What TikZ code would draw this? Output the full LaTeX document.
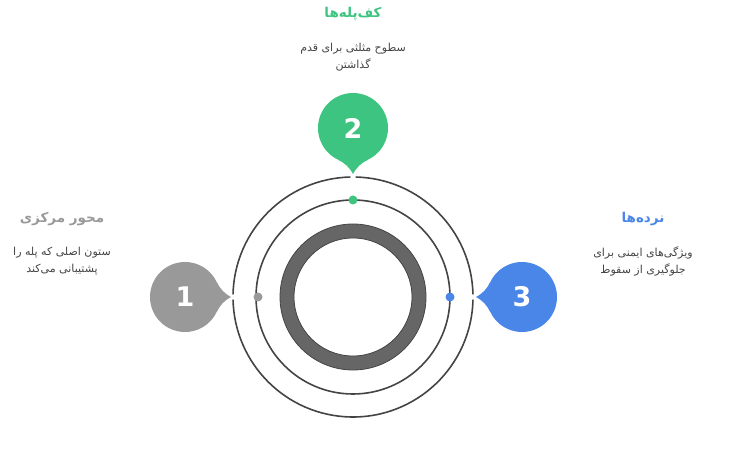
\documentclass[tikz,border=0pt]{standalone}
\usepackage{fontspec}
\newfontfamily\arabicfont[Script=Arabic]{DejaVu Sans}
\newfontfamily\numfont{DejaVu Sans}
\TeXXeTstate=1
\usetikzlibrary{positioning}
\definecolor{mygreen}{RGB}{61,196,128}
\definecolor{mygray}{RGB}{153,153,153}
\definecolor{myblue}{RGB}{74,134,232}
\definecolor{myline}{RGB}{68,68,68}
\definecolor{myring}{RGB}{102,102,102}

\begin{document}
\begin{tikzpicture}[
  x=1pt, y=-1pt,
  badge/.style={
    circle,
    fill=#1,
    minimum size=70pt,
    inner sep=0pt,
    text=white,
    font=\numfont\bfseries\fontsize{27}{27}\selectfont
    },
  dot/.style={
    circle,
    fill=#1,
    minimum size=9pt,
    inner sep=0pt
    },
  title/.style={
    text=#1,
    font=\arabicfont\bfseries\fontsize{13.5}{15}\selectfont
    },
  desc/.style={
    text=myline,
    align=center,
    font=\arabicfont\fontsize{11}{17}\selectfont
    },
  orbit/.style={
    draw=myline,
    line width=1.6pt
    }
]
\useasboundingbox (0,0) rectangle (734,454);

\coordinate (hub) at (353,297);

% orbits
\draw[orbit] (hub) circle (97);
\draw[orbit] ([shift={(1.3:120)}]hub) arc (1.3:178.7:120);
\draw[orbit] ([shift={(181.3:120)}]hub) arc (181.3:268.7:120);
\draw[orbit] ([shift={(271.3:120)}]hub) arc (271.3:358.7:120);

% hub ring
\draw[myring, line width=14pt] (hub) circle (66);
\draw[myline, line width=0.8pt] (hub) circle (73);
\draw[myline, line width=0.8pt] (hub) circle (59);

% badges
\node[badge=mygray] (b1) at (185,297) {1};
\node[badge=mygreen] (b2) at (353,128) {2};
\node[badge=myblue] (b3) at (522,297) {3};

\coordinate (t1) at (231,297);
\coordinate (t2) at (353,174);
\coordinate (t3) at (476,297);

\fill[mygray] (b1.26) to[bend right=18] (t1) to[bend right=18] (b1.-26) -- cycle;
\fill[mygreen] (b2.-64) to[bend right=18] (t2) to[bend right=18] (b2.-116) -- cycle;
\fill[myblue] (b3.154) to[bend left=18] (t3) to[bend left=18] (b3.206) -- cycle;

% dots
\node[dot=mygray] (d1) at (258,297) {};
\node[dot=mygreen] (d2) at (353,200) {};
\node[dot=myblue] (d3) at (450,297) {};

% labels
\node[title=mygray] (h1) at (62,219) {\beginR محور مرکزی\endR};
\node[desc] (p1) at (62,261) {\beginR ستون اصلی که پله را\endR\\\beginR پشتیبانی می‌کند\endR};

\node[title=mygreen] (h2) at (353,14) {\beginR کف‌پله‌ها\endR};
\node[desc] (p2) at (353,57) {\beginR سطوح مثلثی برای قدم\endR\\\beginR گذاشتن\endR};

\node[title=myblue] (h3) at (643,219) {\beginR نرده‌ها\endR};
\node[desc] (p3) at (643,261) {\beginR ویژگی‌های ایمنی برای\endR\\\beginR جلوگیری از سقوط\endR};

\end{tikzpicture}
\end{document}
